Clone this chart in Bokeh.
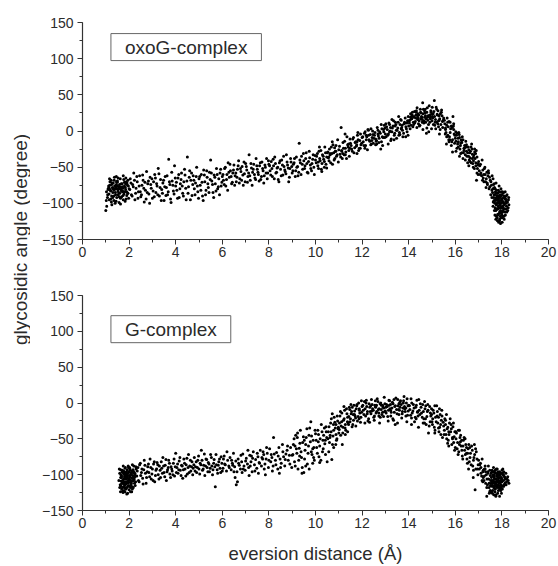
from bokeh.plotting import figure
from bokeh.layouts import row, column
from bokeh.models import Range1d, SingleIntervalTicker, Label
from bokeh.embed import file_html
from bokeh.resources import INLINE

# ---------------- data ----------------
panel_names = ["oxoG-complex", "G-complex"]
x_label = "eversion distance (Å)"
y_label = "glycosidic angle (degree)"

# oxoG-complex, first set of samples
oxo_x = [
    1.00, 1.04, 1.08, 1.12, 1.15, 1.18, 1.20, 1.23, 1.25, 1.28,
    1.30, 1.32, 1.35, 1.37, 1.40, 1.42, 1.45, 1.47, 1.50, 1.52,
    1.55, 1.57, 1.60, 1.62, 1.65, 1.68, 1.70, 1.72, 1.75, 1.78,
    1.80, 1.83, 1.85, 1.88, 1.90, 1.93, 1.95, 1.98, 2.00, 1.10,
    1.25, 1.40, 1.55, 1.70, 1.85, 1.30, 1.45, 1.60, 1.75, 1.90,
    1.15, 1.35, 1.50, 1.65, 1.80, 1.95, 1.22, 1.48, 1.72, 1.02,
    2.05, 2.10, 2.15, 2.20, 2.25, 2.30, 2.35, 2.40, 2.45, 2.50,
    2.55, 2.60, 2.65, 2.70, 2.75, 2.80, 2.85, 2.90, 2.95, 3.00,
    3.05, 3.10, 3.15, 3.20, 3.25, 3.30, 3.35, 3.40, 3.45, 3.50,
    3.55, 3.60, 3.65, 3.70, 3.75, 3.80, 3.85, 3.90, 3.95, 4.00,
    4.05, 4.10, 4.15, 4.20, 4.25, 4.30, 4.35, 4.40, 4.45, 4.50,
    4.55, 4.60, 4.65, 4.70, 4.75, 4.80, 4.85, 4.90, 4.95, 5.00,
    5.05, 5.10, 5.15, 5.20, 5.25, 5.30, 5.35, 5.40, 5.45, 5.50,
    5.55, 5.60, 5.65, 5.70, 5.75, 5.80, 5.85, 5.90, 5.95, 6.00,
    6.05, 6.10, 6.15, 6.20, 6.25, 6.30, 6.35, 6.40, 6.45, 6.50,
    6.55, 6.60, 6.65, 6.70, 6.75, 6.80, 6.85, 6.90, 6.95, 7.00,
    7.05, 7.10, 7.15, 7.20, 7.25, 7.30, 7.35, 7.40, 7.45, 7.50,
    7.55, 7.60, 7.65, 7.70, 7.75, 7.80, 7.85, 7.90, 7.95, 8.00,
    8.05, 8.10, 8.15, 8.20, 8.25, 8.30, 8.35, 8.40, 8.45, 8.50,
    8.55, 8.60, 8.65, 8.70, 8.75, 8.80, 8.85, 8.90, 8.95, 9.00,
    9.05, 9.10, 9.15, 9.20, 9.25, 9.30, 9.35, 9.40, 9.45, 9.50,
    9.55, 9.60, 9.65, 9.70, 9.75, 9.80, 9.85, 9.90, 9.95, 10.00,
    10.05, 10.10, 10.15, 10.20, 10.25, 10.30, 10.35, 10.40, 10.45, 10.50,
    10.55, 10.60, 10.65, 10.70, 10.75, 10.80, 10.85, 10.90, 10.95, 11.00,
    11.05, 11.10, 11.15, 11.20, 11.25, 11.30, 11.35, 11.40, 11.45, 11.50,
    11.55, 11.60, 11.65, 11.70, 11.75, 11.80, 11.85, 11.90, 11.95, 12.00,
    10.12, 10.48, 10.82, 11.12, 11.42, 11.78, 10.62, 11.28, 11.92, 10.38,
    12.05, 12.10, 12.15, 12.20, 12.25, 12.30, 12.35, 12.40, 12.45, 12.50,
    12.55, 12.60, 12.65, 12.70, 12.75, 12.80, 12.85, 12.90, 12.95, 13.00,
    13.05, 13.10, 13.15, 13.20, 13.25, 13.30, 13.35, 13.40, 13.45, 13.50,
    13.55, 13.60, 13.65, 13.70, 13.75, 13.80, 13.85, 13.90, 13.95, 14.00,
    12.18, 12.42, 12.68, 12.92, 13.18, 13.42, 13.68, 13.92, 12.58, 13.28,
    14.05, 14.10, 14.15, 14.20, 14.25, 14.30, 14.35, 14.40, 14.45, 14.50,
    14.55, 14.60, 14.65, 14.70, 14.75, 14.80, 14.85, 14.90, 14.95, 15.00,
    15.05, 15.10, 15.15, 15.20, 15.25, 15.30, 15.35, 15.40, 15.45, 15.50,
    14.12, 14.32, 14.52, 14.72, 14.92, 15.12, 15.32, 14.22, 14.62, 15.02,
    14.42, 14.82, 15.22, 14.08, 14.38, 14.68, 14.98, 15.28, 14.58, 14.78,
    15.55, 15.60, 15.65, 15.70, 15.75, 15.80, 15.85, 15.90, 15.95, 16.00,
    16.05, 16.10, 16.15, 16.20, 16.25, 16.30, 16.35, 16.40, 16.45, 16.50,
    16.55, 16.60, 16.65, 16.70, 16.75, 16.80, 16.85, 16.90, 16.95, 17.00,
    15.62, 15.88, 16.12, 16.38, 16.62, 16.88, 15.78, 16.02, 16.28, 16.78,
    15.58, 15.92, 16.22, 16.48, 16.72, 16.98, 16.58, 16.82, 16.18, 15.72,
    17.05, 17.10, 17.15, 17.20, 17.25, 17.30, 17.35, 17.40, 17.45, 17.50,
    17.55, 17.60, 17.62, 17.65, 17.68, 17.70, 17.72, 17.75, 17.78, 17.80,
    17.82, 17.85, 17.88, 17.90, 17.92, 17.95, 17.98, 18.00, 18.02, 18.05,
    18.08, 18.10, 18.12, 18.15, 18.18, 18.20, 18.22, 18.25, 18.28, 18.30,
    17.72, 17.76, 17.84, 17.86, 17.94, 17.96, 18.04, 18.06, 17.58, 17.66,
    17.74, 17.80, 17.88, 17.92, 18.00, 18.14, 17.52, 17.42, 17.32, 17.22,
    17.78, 17.84, 17.90, 17.96, 18.02, 17.70, 17.64, 18.10, 17.86, 17.98,
]
oxo_y = [
    -110, -104, -88, -76, -95, -70, -82, -68, -90, -78,
    -85, -72, -96, -64, -80, -88, -74, -92, -69, -83,
    -77, -99, -86, -66, -79, -91, -73, -84, -62, -87,
    -76, -97, -81, -70, -89, -75, -68, -93, -80, -81,
    -74, -100, -85, -78, -73, -92, -63, -77, -95, -84,
    -79, -82, -76, -81, -71, -86, -94, -80, -83, -96,
    -66, -88, -74, -58, -95, -79, -70, -84, -62, -91,
    -75, -68, -98, -82, -56, -73, -87, -64, -79, -93,
    -70, -60, -85, -76, -52, -90, -67, -81, -72, -96,
    -63, -78, -88, -39, -74, -99, -69, -83, -48, -76,
    -82, -65, -92, -73, -58, -86, -70, -61, -95, -36,
    -77, -55, -68, -89, -62, -80, -72, -50, -84, -66,
    -75, -60, -90, -54, -70, -82, -64, -78, -57, -40,
    -69, -85, -61, -73, -52, -80, -66, -58, -76, -63,
    -68, -52, -76, -60, -44, -64, -55, -73, -58, -47,
    -62, -70, -53, -41, -66, -56, -49, -75, -59, -45,
    -54, -63, -33, -68, -51, -57, -46, -65, -38, -53,
    -60, -48, -67, -43, -55, -62, -50, -38, -58, -46,
    -55, -42, -63, -48, -36, -58, -51, -67, -44, -53,
    -40, -61, -49, -56, -33, -47, -70, -52, -43, -58,
    -46, -38, -55, -50, -62, -17, -44, -35, -53, -41,
    -48, -30, -57, -42, -37, -52, -45, -33, -60, -40,
    -35, -48, -28, -41, -53, -33, -39, -22, -46, -30,
    -37, -25, -44, -31, -19, -40, -28, -35, -12, -26,
    -32, 5, -38, -24, -14, -29, -8, -22, -35, -17,
    -25, -11, -30, -16, -21, -6, -27, -13, -19, -9,
    -43, -36, -23, -27, -18, -15, -31, -33, -24, -50,
    -15, -3, -20, -8, 2, -12, -5, -18, 0, -10,
    -2, -14, 5, -7, -1, -25, 3, -9, 8, -4,
    6, -6, 11, 0, -11, 4, 14, -3, 9, 1,
    12, -2, 16, 5, -8, 10, 18, 3, 14, 7,
    -6, -13, -4, 2, -1, 7, 3, 11, -19, 16,
    15, 8, 22, 12, 27, 18, 5, 24, 14, 30,
    20, 39, 11, 25, 17, 32, 9, 22, 28, 14,
    24, 42, 16, 30, 10, 21, 2, 26, 13, 18,
    20, 26, 17, 21, 19, 8, -4, 19, 24, 20,
    10, 15, 23, 19, 21, 28, 3, 14, 12, 4,
    10, -2, 18, 6, -8, 3, -15, 20, -4, -10,
    -6, -18, -2, -25, -12, -8, -30, -20, -14, -35,
    -22, -40, -28, -18, -45, -33, -38, -27, -52, -42,
    -18, -29, -10, -24, -30, -44, 12, -1, -16, -36,
    4, 7, -20, -28, -25, -60, -48, -52, -35, -12,
    -48, -58, -40, -65, -52, -70, -57, -62, -80, -68,
    -75, -85, -66, -92, -78, -100, -84, -72, -108, -90,
    -115, -82, -98, -124, -88, -105, -112, -94, -120, -86,
    -100, -108, -92, -116, -97, -104, -88, -110, -95, -102,
    -96, -118, -104, -92, -128, -80, -110, -98, -62, -88,
    -110, -120, -76, -102, -116, -84, -88, -55, -78, -60,
    -86, -94, -112, -90, -104, -116, -74, -122, -126, -100,
]

# oxoG-complex, second set of samples
oxo_x_b = [
    1.03, 1.07, 1.11, 1.14, 1.17, 1.21, 1.24, 1.27, 1.31, 1.34,
    1.38, 1.41, 1.44, 1.49, 1.53, 1.56, 1.59, 1.63, 1.67, 1.71,
    1.74, 1.77, 1.81, 1.84, 1.87, 1.91, 1.94, 1.97, 1.36, 1.58,
    1.16, 1.26, 1.46, 1.66, 1.86, 1.43, 1.63, 1.33, 1.53, 1.73,
    2.03, 2.08, 2.13, 2.18, 2.23, 2.28, 2.33, 2.38, 2.43, 2.48,
    2.53, 2.58, 2.63, 2.68, 2.73, 2.78, 2.83, 2.88, 2.93, 2.98,
    3.03, 3.08, 3.13, 3.18, 3.23, 3.28, 3.33, 3.38, 3.43, 3.48,
    3.53, 3.58, 3.63, 3.68, 3.73, 3.78, 3.83, 3.88, 3.93, 3.98,
    4.03, 4.08, 4.13, 4.18, 4.23, 4.28, 4.33, 4.38, 4.43, 4.48,
    4.53, 4.58, 4.63, 4.68, 4.73, 4.78, 4.83, 4.88, 4.93, 4.98,
    5.03, 5.08, 5.13, 5.18, 5.23, 5.28, 5.33, 5.38, 5.43, 5.48,
    5.53, 5.58, 5.63, 5.68, 5.73, 5.78, 5.83, 5.88, 5.93, 5.98,
    6.03, 6.08, 6.13, 6.18, 6.23, 6.28, 6.33, 6.38, 6.43, 6.48,
    6.53, 6.58, 6.63, 6.68, 6.73, 6.78, 6.83, 6.88, 6.93, 6.98,
    7.03, 7.08, 7.13, 7.18, 7.23, 7.28, 7.33, 7.38, 7.43, 7.48,
    7.53, 7.58, 7.63, 7.68, 7.73, 7.78, 7.83, 7.88, 7.93, 7.98,
    8.03, 8.08, 8.13, 8.18, 8.23, 8.28, 8.33, 8.38, 8.43, 8.48,
    8.53, 8.58, 8.63, 8.68, 8.73, 8.78, 8.83, 8.88, 8.93, 8.98,
    9.03, 9.08, 9.13, 9.18, 9.23, 9.28, 9.33, 9.38, 9.43, 9.48,
    9.53, 9.58, 9.63, 9.68, 9.73, 9.78, 9.83, 9.88, 9.93, 9.98,
    10.03, 10.08, 10.13, 10.18, 10.23, 10.28, 10.33, 10.38, 10.43, 10.48,
    10.53, 10.58, 10.63, 10.68, 10.73, 10.78, 10.83, 10.88, 10.93, 10.98,
    11.03, 11.08, 11.13, 11.18, 11.23, 11.28, 11.33, 11.38, 11.43, 11.48,
    11.53, 11.58, 11.63, 11.68, 11.73, 11.78, 11.83, 11.88, 11.93, 11.98,
    10.27, 10.57, 10.87, 11.17, 11.47, 11.77, 10.17, 10.72, 11.27, 11.82,
    12.03, 12.08, 12.13, 12.18, 12.23, 12.28, 12.33, 12.38, 12.43, 12.48,
    12.53, 12.58, 12.63, 12.68, 12.73, 12.78, 12.83, 12.88, 12.93, 12.98,
    13.03, 13.08, 13.13, 13.18, 13.23, 13.28, 13.33, 13.38, 13.43, 13.48,
    13.53, 13.58, 13.63, 13.68, 13.73, 13.78, 13.83, 13.88, 13.93, 13.98,
    12.12, 12.37, 12.62, 12.87, 13.12, 13.37, 13.62, 13.87, 12.27, 13.02,
    12.47, 12.72, 12.97, 13.22, 13.47, 13.72, 13.97, 12.82, 13.57, 13.82,
    14.03, 14.08, 14.13, 14.18, 14.23, 14.28, 14.33, 14.38, 14.43, 14.48,
    14.53, 14.58, 14.63, 14.68, 14.73, 14.78, 14.83, 14.88, 14.93, 14.98,
    15.03, 15.08, 15.13, 15.18, 15.23, 15.28, 15.33, 15.38, 15.43, 15.48,
    14.06, 14.26, 14.46, 14.66, 14.86, 15.06, 15.26, 15.46, 14.16, 14.36,
    14.56, 14.76, 14.96, 15.16, 15.36, 14.11, 14.31, 14.51, 14.71, 14.91,
    15.11, 15.31, 15.41, 15.21, 15.01, 14.81, 14.61, 14.41, 14.21, 14.01,
    15.53, 15.58, 15.63, 15.68, 15.73, 15.78, 15.83, 15.88, 15.93, 15.98,
    16.03, 16.08, 16.13, 16.18, 16.23, 16.28, 16.33, 16.38, 16.43, 16.48,
    16.53, 16.58, 16.63, 16.68, 16.73, 16.78, 16.83, 16.88, 16.93, 16.98,
    15.57, 15.67, 15.77, 15.87, 15.97, 16.07, 16.17, 16.27, 16.37, 16.47,
    16.57, 16.67, 16.77, 16.87, 16.97, 15.63, 15.83, 16.03, 16.23, 16.43,
    16.63, 16.83, 16.93, 15.73, 15.93, 16.13, 16.33, 16.53, 16.73, 16.91,
    17.03, 17.08, 17.13, 17.18, 17.23, 17.28, 17.33, 17.38, 17.43, 17.48,
    17.53, 17.57, 17.61, 17.63, 17.67, 17.69, 17.71, 17.73, 17.77, 17.79,
    17.81, 17.83, 17.87, 17.89, 17.91, 17.93, 17.97, 17.99, 18.01, 18.03,
    18.07, 18.09, 18.11, 18.13, 18.17, 18.19, 18.21, 18.24, 18.27, 18.29,
    17.74, 17.79, 17.84, 17.89, 17.94, 17.99, 18.04, 18.09, 17.81, 17.87,
    17.93, 17.97, 18.03, 18.13, 18.18, 17.66, 17.71, 17.76, 17.82, 17.92,
    17.47, 17.37, 17.27, 17.17, 17.07, 17.57, 17.62, 17.68, 17.76, 17.88,
    17.95, 18.01, 18.06, 18.16, 17.83, 17.90, 17.98, 18.05, 17.75, 17.85,
]
oxo_y_b = [
    -84, -92, -79, -87, -75, -83, -98, -72, -80, -90,
    -76, -85, -97, -71, -88, -80, -74, -93, -83, -77,
    -89, -67, -84, -78, -94, -72, -86, -76, -68, -91,
    -66, -102, -70, -73, -65, -77, -101, -79, -65, -79,
    -81, -72, -90, -77, -68, -86, -63, -93, -76, -84,
    -88, -61, -79, -71, -94, -85, -69, -100, -74, -66,
    -83, -91, -65, -73, -88, -59, -78, -96, -86, -68,
    -77, -89, -62, -84, -70, -94, -57, -75, -87, -65,
    -71, -93, -60, -80, -67, -76, -90, -53, -79, -69,
    -86, -64, -95, -58, -74, -68, -88, -63, -76, -93,
    -63, -82, -71, -96, -61, -88, -55, -73, -85, -67,
    -58, -74, -92, -64, -83, -60, -77, -88, -53, -71,
    -60, -74, -50, -67, -82, -57, -46, -63, -71, -54,
    -75, -58, -64, -48, -72, -52, -68, -61, -43, -70,
    -49, -71, -58, -62, -45, -75, -53, -60, -67, -48,
    -57, -69, -44, -63, -52, -72, -47, -58, -66, -41,
    -48, -61, -52, -39, -66, -45, -57, -50, -70, -41,
    -62, -47, -35, -54, -59, -43, -51, -64, -38, -49,
    -55, -44, -63, -36, -49, -57, -40, -60, -46, -31,
    -52, -38, -45, -58, -28, -47, -55, -39, -50, -34,
    -44, -31, -52, -38, -27, -45, -35, -42, -30, -51,
    -29, -41, -33, -22, -46, -30, -38, -20, -33, -43,
    -21, -36, -28, -16, -33, -24, -38, -19, -27, -11,
    -20, -28, -9, -23, -15, -31, -12, -24, -4, -17,
    -56, -36, -28, -31, -24, -19, -22, -15, -4, -2,
    -8, -20, -1, -12, -26, -6, -14, 3, -9, -17,
    -6, -11, -18, 1, -10, -3, -15, -20, -1, 4,
    -8, 2, -4, 9, -13, -1, 7, -6, 12, -10,
    4, -6, 9, 15, 1, -3, 11, 6, -1, 20,
    -24, -19, -13, -8, -18, -12, -5, -8, 1, 10,
    -5, -16, -9, 5, 1, 8, -6, 9, 20, 12,
    11, 24, 17, 6, 20, 13, 28, 16, 22, 8,
    25, 16, 30, 19, 12, 26, 21, 35, 17, 23,
    18, 27, 12, 33, 22, 6, 17, 9, 21, 15,
    3, 11, 7, 14, -1, 9, 28, 5, 26, 32,
    19, -3, 26, 3, 24, 17, 22, 26, 30, 12,
    20, 15, 29, 12, 33, 19, 2, 18, 9, 14,
    15, 2, 8, -6, 13, -2, 7, -12, 2, -6,
    -14, -3, -22, -9, -17, -30, -12, -24, -33, -19,
    -30, -26, -37, -44, -32, -41, -29, -48, -36, -45,
    -4, 12, -12, 5, -17, -24, -5, -13, -27, -22,
    -35, -22, -50, -31, -47, -8, -20, -28, -31, -40,
    -42, -25, -58, -15, 10, -15, -38, -44, -38, -68,
    -55, -46, -62, -54, -70, -60, -66, -74, -58, -77,
    -70, -92, -80, -98, -73, -88, -106, -94, -82, -100,
    -96, -108, -90, -114, -100, -118, -84, -106, -96, -112,
    -92, -118, -102, -94, -108, -90, -112, -98, -106, -92,
    -122, -108, -100, -96, -110, -88, -104, -90, -124, -106,
    -92, -120, -84, -112, -100, -96, -80, -102, -86, -106,
    -64, -72, -50, -68, -60, -82, -104, -110, -92, -84,
    -96, -126, -106, -94, -116, -122, -114, -118, -86, -92,
]

# G-complex, first set of samples
g_x = [
    1.58, 1.62, 1.65, 1.68, 1.70, 1.72, 1.75, 1.78, 1.80, 1.82,
    1.85, 1.88, 1.90, 1.92, 1.95, 1.98, 2.00, 2.02, 2.05, 2.08,
    2.10, 2.12, 2.15, 2.18, 2.20, 2.22, 2.25, 2.28, 2.30, 1.76,
    1.86, 1.96, 2.06, 2.16, 2.26, 1.66, 1.74, 1.84, 1.94, 2.04,
    1.90, 1.80, 1.70, 2.00, 2.10, 2.14, 1.98, 1.88, 1.78, 2.24,
    1.60, 1.64, 1.94, 2.02, 2.12, 1.82, 1.72, 2.18, 1.92, 2.08,
    2.35, 2.40, 2.45, 2.50, 2.55, 2.60, 2.65, 2.70, 2.75, 2.80,
    2.85, 2.90, 2.95, 3.00, 3.05, 3.10, 3.15, 3.20, 3.25, 3.30,
    3.35, 3.40, 3.45, 3.50, 3.55, 3.60, 3.65, 3.70, 3.75, 3.80,
    3.85, 3.90, 3.95, 4.00, 4.05, 4.10, 4.15, 4.20, 4.25, 4.30,
    4.35, 4.40, 4.45, 4.50, 4.55, 4.60, 4.65, 4.70, 4.75, 4.80,
    4.85, 4.90, 4.95, 5.00, 5.05, 5.10, 5.15, 5.20, 5.25, 5.30,
    5.35, 5.40, 5.45, 5.50, 5.55, 5.60, 5.65, 5.70, 5.75, 5.80,
    5.85, 5.90, 5.95, 6.00, 6.10, 6.20, 6.30, 6.40, 6.50, 6.60,
    6.65, 6.70, 6.80, 6.90, 7.00, 7.10, 7.20, 7.30, 7.40, 7.50,
    7.60, 7.70, 7.80, 7.90, 8.00, 8.10, 8.20, 8.30, 8.40, 8.50,
    8.60, 8.70, 8.80, 8.90, 9.00, 6.05, 6.45, 6.85, 7.25, 7.75,
    9.05, 9.10, 9.15, 9.20, 9.25, 9.30, 9.35, 9.40, 9.45, 9.50,
    9.55, 9.60, 9.65, 9.70, 9.75, 9.80, 9.85, 9.90, 9.95, 10.00,
    10.05, 10.10, 10.15, 10.20, 10.25, 10.30, 10.35, 10.40, 10.45, 10.50,
    9.22, 9.58, 9.88, 10.18, 10.42,
    10.55, 10.60, 10.65, 10.70, 10.75, 10.80, 10.85, 10.90, 10.95, 11.00,
    11.05, 11.10, 11.15, 11.20, 11.25, 11.30, 11.35, 11.40, 11.45, 11.50,
    11.55, 11.60, 11.65, 11.70, 11.75, 11.80, 11.85, 11.90, 11.95, 12.00,
    10.62, 10.88, 11.12, 11.38, 11.62, 11.88, 10.78, 11.02, 11.28, 11.52,
    12.05, 12.10, 12.15, 12.20, 12.25, 12.30, 12.35, 12.40, 12.45, 12.50,
    12.55, 12.60, 12.65, 12.70, 12.75, 12.80, 12.85, 12.90, 12.95, 13.00,
    13.05, 13.10, 13.15, 13.20, 13.25, 13.30, 13.35, 13.40, 13.45, 13.50,
    13.55, 13.60, 13.65, 13.70, 13.75, 13.80, 13.85, 13.90, 13.95, 14.00,
    14.05, 14.10, 14.15, 14.20, 14.25, 14.30, 14.35, 14.40, 14.45, 14.50,
    12.22, 12.58, 12.88, 13.22, 13.58, 13.88, 14.12, 14.38, 12.72, 13.42,
    14.55, 14.60, 14.65, 14.70, 14.75, 14.80, 14.85, 14.90, 14.95, 15.00,
    15.05, 15.10, 15.15, 15.20, 15.25, 15.30, 15.35, 15.40, 15.45, 15.50,
    15.55, 15.60, 15.65, 15.70, 15.75, 15.80, 15.85, 15.90, 15.95, 16.00,
    16.05, 16.10, 16.15, 16.20, 16.25, 16.30, 16.35, 16.40, 16.45, 16.50,
    16.55, 16.60, 16.65, 16.70, 16.75, 16.80, 16.85, 16.90, 16.95, 17.00,
    14.68, 14.98, 15.28, 15.58, 15.88, 16.18, 16.48, 16.78, 15.12, 15.72,
    17.05, 17.10, 17.15, 17.20, 17.25, 17.30, 17.35, 17.40, 17.45, 17.50,
    17.52, 17.55, 17.58, 17.60, 17.62, 17.65, 17.68, 17.70, 17.72, 17.75,
    17.78, 17.80, 17.82, 17.85, 17.88, 17.90, 17.92, 17.95, 17.98, 18.00,
    18.05, 18.10, 18.15, 18.20, 18.25, 18.30, 17.56, 17.64, 17.74, 17.84,
    17.94, 18.02, 18.08, 17.42, 17.36, 17.28, 17.18, 17.70, 17.86, 17.60,
    17.66, 17.76, 17.90, 17.54, 17.80, 18.00, 17.48, 17.72, 17.96, 18.12,
]
g_y = [
    -92, -114, -100, -120, -96, -108, -88, -117, -103, -124,
    -98, -110, -127, -93, -105, -115, -121, -90, -108, -100,
    -112, -95, -104, -118, -88, -106, -99, -110, -92, -106,
    -113, -98, -124, -101, -115, -109, -97, -119, -111, -94,
    -102, -96, -112, -107, -97, -120, -90, -106, -113, -103,
    -118, -104, -116, -101, -109, -91, -123, -97, -100, -114,
    -95, -108, -86, -101, -92, -113, -80, -98, -104, -89,
    -97, -78, -106, -92, -85, -110, -94, -83, -100, -88,
    -104, -91, -76, -97, -87, -108, -93, -80, -99, -89,
    -95, -84, -102, -70, -90, -98, -81, -94, -87, -105,
    -78, -92, -86, -99, -72, -88, -95, -82, -91, -76,
    -89, -97, -80, -92, -84, -66, -94, -87, -101, -78,
    -90, -83, -96, -72, -88, -93, -79, -117, -86, -98,
    -82, -91, -75, -95, -85, -68, -90, -80, -96, -114,
    -110, -84, -73, -92, -81, -66, -88, -77, -95, -70,
    -84, -76, -92, -62, -80, -72, -48, -86, -74, -90,
    -68, -79, -60, -85, -73, -78, -87, -97, -74, -68,
    -58, -82, -45, -70, -92, -63, -38, -76, -55, -97,
    -66, -48, -85, -60, -35, -26, -72, -52, -80, -43,
    -62, -38, -75, -50, -30, -68, -45, -57, -33, -82,
    -48, -88, -64, -83, -52,
    -40, -55, -28, -79, -46, -20, -35, -52, -25, -42,
    -18, -32, -58, -24, -10, -38, -15, -28, -6, -22,
    -12, -30, -3, -18, -8, -25, 0, -14, -20, -5,
    -48, -30, -26, -20, -16, -10, -62, -37, -44, -2,
    -10, 2, -18, -5, -25, -1, -12, 5, -8, -20,
    -3, -14, 6, -9, -28, 0, -16, -6, 8, -11,
    -2, -19, 4, -8, -13, 1, -24, -5, 7, -15,
    -4, -10, 3, -21, -7, 9, -12, 0, -17, -3,
    -9, 6, -14, -2, -26, -6, 4, -18, -10, -1,
    -15, -6, -3, -10, -1, -7, -21, -12, -18, -30,
    -14, -2, -22, -8, -30, -12, -42, -5, -18, -26,
    -10, -34, -20, -4, -28, -40, -16, -24, -48, -32,
    -22, -44, -36, -52, -28, -40, -58, -33, -47, -62,
    -42, -55, -68, -48, -60, -74, -52, -66, -58, -78,
    -64, -82, -70, -60, -88, -76, -121, -68, -92, -80,
    2, -16, -35, -30, -50, -38, -70, -94, -4, -60,
    -86, -98, -78, -104, -92, -112, -130, -96, -118, -101,
    -108, -124, -94, -115, -102, -128, -110, -97, -120, -106,
    -114, -100, -126, -108, -118, -96, -112, -122, -104, -110,
    -100, -114, -106, -110, -103, -112, -116, -90, -130, -98,
    -108, -120, -96, -88, -106, -92, -110, -116, -104, -122,
    -100, -92, -130, -112, -118, -94, -124, -112, -116, -104,
]

# G-complex, second set of samples
g_x_b = [
    1.56, 1.60, 1.63, 1.67, 1.69, 1.71, 1.73, 1.77, 1.79, 1.81,
    1.83, 1.87, 1.89, 1.91, 1.93, 1.97, 1.99, 2.01, 2.03, 2.07,
    2.09, 2.11, 2.13, 2.17, 2.19, 2.21, 2.23, 2.27, 2.29, 1.74,
    1.84, 1.94, 2.04, 2.14, 2.24, 1.64, 1.68, 1.78, 1.88, 1.98,
    2.06, 2.16, 1.96, 1.86, 1.76, 1.66, 1.81, 1.91, 2.01, 2.11,
    2.33, 2.38, 2.43, 2.48, 2.53, 2.58, 2.63, 2.68, 2.73, 2.78,
    2.83, 2.88, 2.93, 2.98, 3.03, 3.08, 3.13, 3.18, 3.23, 3.28,
    3.33, 3.38, 3.43, 3.48, 3.53, 3.58, 3.63, 3.68, 3.73, 3.78,
    3.83, 3.88, 3.93, 3.98, 4.03, 4.08, 4.13, 4.18, 4.23, 4.28,
    4.33, 4.38, 4.43, 4.48, 4.53, 4.58, 4.63, 4.68, 4.73, 4.78,
    4.83, 4.88, 4.93, 4.98, 5.03, 5.08, 5.13, 5.18, 5.23, 5.28,
    5.33, 5.38, 5.43, 5.48, 5.53, 5.58, 5.63, 5.68, 5.73, 5.78,
    5.83, 5.88, 5.93, 5.98, 6.03, 6.08, 6.13, 6.18, 6.23, 6.28,
    6.33, 6.38, 6.43, 6.48, 6.53, 6.58, 6.63, 6.68, 6.73, 6.78,
    6.83, 6.88, 6.93, 6.98, 7.03, 7.08, 7.13, 7.18, 7.23, 7.28,
    7.33, 7.38, 7.43, 7.48, 7.53, 7.58, 7.63, 7.68, 7.73, 7.78,
    7.83, 7.88, 7.93, 7.98, 8.03, 8.08, 8.13, 8.18, 8.23, 8.28,
    8.33, 8.38, 8.43, 8.48, 8.53, 8.58, 8.63, 8.68, 8.73, 8.78,
    8.83, 8.88, 8.93, 8.98, 8.45, 8.15, 7.85, 7.55, 7.15, 6.55,
    9.03, 9.08, 9.13, 9.18, 9.23, 9.28, 9.33, 9.38, 9.43, 9.48,
    9.53, 9.58, 9.63, 9.68, 9.73, 9.78, 9.83, 9.88, 9.93, 9.98,
    10.03, 10.08, 10.13, 10.18, 10.23, 10.28, 10.33, 10.38, 10.43, 10.48,
    9.12, 9.32, 9.52, 9.72, 9.92, 10.12, 10.32, 10.46, 9.42, 9.82,
    10.53, 10.58, 10.63, 10.68, 10.73, 10.78, 10.83, 10.88, 10.93, 10.98,
    11.03, 11.08, 11.13, 11.18, 11.23, 11.28, 11.33, 11.38, 11.43, 11.48,
    11.53, 11.58, 11.63, 11.68, 11.73, 11.78, 11.83, 11.88, 11.93, 11.98,
    10.57, 10.67, 10.77, 10.87, 10.97, 11.07, 11.17, 11.27, 11.37, 11.47,
    11.57, 11.67, 11.77, 11.87, 11.97, 10.72, 10.92, 11.22, 11.42, 11.72,
    12.03, 12.08, 12.13, 12.18, 12.23, 12.28, 12.33, 12.38, 12.43, 12.48,
    12.53, 12.58, 12.63, 12.68, 12.73, 12.78, 12.83, 12.88, 12.93, 12.98,
    13.03, 13.08, 13.13, 13.18, 13.23, 13.28, 13.33, 13.38, 13.43, 13.48,
    13.53, 13.58, 13.63, 13.68, 13.73, 13.78, 13.83, 13.88, 13.93, 13.98,
    14.03, 14.08, 14.13, 14.18, 14.23, 14.28, 14.33, 14.38, 14.43, 14.48,
    12.12, 12.32, 12.52, 12.72, 12.92, 13.12, 13.32, 13.52, 13.72, 13.92,
    14.12, 14.32, 14.42, 12.42, 12.62, 12.82, 13.02, 13.22, 13.62, 13.82,
    12.17, 12.37, 12.57, 12.77, 12.97, 13.17, 13.37, 13.57, 13.77, 13.97,
    14.53, 14.58, 14.63, 14.68, 14.73, 14.78, 14.83, 14.88, 14.93, 14.98,
    15.03, 15.08, 15.13, 15.18, 15.23, 15.28, 15.33, 15.38, 15.43, 15.48,
    15.53, 15.58, 15.63, 15.68, 15.73, 15.78, 15.83, 15.88, 15.93, 15.98,
    16.03, 16.08, 16.13, 16.18, 16.23, 16.28, 16.33, 16.38, 16.43, 16.48,
    16.53, 16.58, 16.63, 16.68, 16.73, 16.78, 16.83, 16.88, 16.93, 16.98,
    14.62, 14.82, 15.02, 15.22, 15.42, 15.62, 15.82, 16.02, 16.22, 16.42,
    16.62, 16.82, 16.97, 15.32, 15.52, 15.72, 15.92, 16.12, 16.32, 16.52,
    14.72, 14.92, 15.12, 15.37, 15.67, 15.97, 16.27, 16.57, 16.87, 16.77,
    17.03, 17.08, 17.13, 17.18, 17.23, 17.28, 17.33, 17.38, 17.43, 17.48,
    17.51, 17.53, 17.57, 17.59, 17.61, 17.63, 17.67, 17.69, 17.71, 17.73,
    17.77, 17.79, 17.81, 17.83, 17.87, 17.89, 17.91, 17.93, 17.97, 17.99,
    18.01, 18.03, 18.07, 18.09, 18.13, 18.17, 18.22, 18.27, 17.55, 17.65,
    17.75, 17.85, 17.95, 17.45, 17.35, 17.25, 17.15, 17.58, 17.68, 17.78,
    17.88, 17.98, 18.08, 17.62, 17.72, 17.82, 17.92, 18.04, 17.50, 17.40,
    17.64, 17.74, 17.84, 17.94, 18.14, 17.46, 17.56, 17.66, 17.76, 17.86,
    17.96, 18.06, 17.70, 17.80, 17.90, 17.60, 17.30, 17.20, 17.10, 18.18,
]
g_y_b = [
    -108, -98, -124, -104, -112, -94, -118, -99, -110, -115,
    -106, -120, -96, -112, -102, -108, -96, -116, -103, -111,
    -99, -105, -117, -93, -108, -96, -112, -102, -89, -125,
    -90, -126, -92, -86, -98, -93, -102, -122, -101, -111,
    -118, -108, -88, -104, -95, -116, -100, -118, -106, -124,
    -102, -90, -110, -84, -97, -105, -93, -87, -112, -96,
    -85, -103, -90, -99, -108, -82, -101, -92, -86, -106,
    -94, -82, -98, -88, -103, -79, -96, -90, -84, -104,
    -92, -100, -78, -89, -97, -85, -93, -76, -101, -88,
    -93, -84, -102, -77, -90, -97, -80, -89, -100, -86,
    -95, -82, -90, -74, -99, -86, -80, -92, -71, -88,
    -79, -96, -85, -91, -76, -100, -84, -89, -72, -93,
    -87, -78, -97, -84, -91, -74, -86, -95, -80, -88,
    -76, -93, -84, -70, -89, -81, -96, -78, -87, -92,
    -82, -71, -88, -94, -77, -85, -90, -73, -82, -96,
    -68, -86, -79, -91, -75, -83, -66, -88, -78, -72,
    -85, -78, -70, -90, -64, -82, -76, -88, -71, -80,
    -69, -92, -62, -78, -84, -58, -75, -88, -71, -66,
    -80, -73, -62, -90, -98, -95, -100, -98, -101, -104,
    -72, -50, -88, -64, -42, -80, -56, -68, -90, -47,
    -78, -58, -36, -70, -92, -54, -46, -84, -62, -38,
    -52, -70, -44, -60, -80, -40, -64, -35, -72, -48,
    -60, -74, -52, -45, -76, -54, -52, -40, -98, -68,
    -50, -33, -45, -22, -58, -38, -27, -44, -18, -34,
    -28, -45, -14, -34, -22, -30, -8, -40, -19, -26,
    -15, -6, -24, -11, -32, -2, -19, -8, -27, -13,
    -68, -40, -30, -58, -36, -12, -42, -35, -26, -9,
    -33, -16, -4, -22, 3, -15, -50, -5, -30, -21,
    -3, -16, -8, 4, -12, -22, -6, -15, -2, -10,
    -18, -5, -12, 2, -8, -20, -3, -13, -7, -1,
    -14, -5, -10, 3, -18, -7, -1, -13, -4, -9,
    5, -16, -6, -2, -12, 3, -8, -18, 6, -11,
    -4, -17, 0, -11, -7, -20, -3, -13, 5, -16,
    -28, -27, -24, -14, -19, -25, -22, -28, -15, -26,
    -30, -22, -34, -11, -3, -9, -6, -2, 1, -5,
    0, -4, 3, -1, -12, -3, 5, -9, 0, -4,
    -6, -20, -12, -28, -4, -19, -10, -32, -14, -8,
    -22, -14, -38, -26, -12, -20, -34, -44, -18, -27,
    -38, -24, -50, -34, -44, -22, -36, -48, -55, -40,
    -50, -64, -38, -58, -45, -66, -60, -48, -72, -62,
    -70, -58, -76, -86, -66, -80, -72, -92, -78, -86,
    -28, -2, -30, -18, -10, -16, -30, -40, -54, -50,
    -62, -58, -100, -8, -44, -40, -28, -72, -78, -84,
    -22, -26, -42, -30, -56, -66, -52, -92, -64, -104,
    -92, -84, -102, -96, -108, -88, -100, -114, -106, -94,
    -115, -98, -108, -126, -100, -112, -104, -120, -94, -110,
    -102, -116, -108, -96, -112, -104, -120, -100, -114, -106,
    -98, -116, -108, -102, -112, -98, -106, -108, -104, -118,
    -128, -122, -98, -112, -118, -102, -108, -96, -106, -110,
    -100, -126, -116, -108, -114, -104, -110, -92, -122, -98,
    -96, -98, -114, -104, -104, -126, -112, -102, -116, -108,
    -118, -100, -124, -92, -116, -110, -96, -94, -90, -114,
]

x_ticks_interval = 2
y_ticks_interval = 50

# ---------------- styling ----------------
FONT = "Liberation Sans"
TXT = "#2b2b2b"
AX = "#333333"


def make_panel(xs, ys, name, height, top, bottom, show_xlabel, label_y):
    p = figure(width=528, height=height,
               x_range=Range1d(0, 20), y_range=Range1d(-150, 150),
               output_backend="svg", toolbar_location=None,
               min_border_left=52, min_border_right=10,
               min_border_top=top, min_border_bottom=bottom)
    p.outline_line_color = None
    p.grid.visible = False
    p.background_fill_color = "white"
    p.border_fill_color = "white"
    p.xaxis.ticker = SingleIntervalTicker(interval=x_ticks_interval, num_minor_ticks=2)
    p.yaxis.ticker = SingleIntervalTicker(interval=y_ticks_interval, num_minor_ticks=2)
    for ax in (p.xaxis[0], p.yaxis[0]):
        ax.axis_line_color = AX
        ax.axis_line_width = 1.2
        ax.major_tick_line_color = AX
        ax.minor_tick_line_color = AX
        ax.major_tick_in = 0
        ax.major_tick_out = 5
        ax.minor_tick_in = 0
        ax.minor_tick_out = 3
        ax.major_label_text_font = FONT
        ax.major_label_text_font_size = "14px"
        ax.major_label_text_color = TXT
    p.xaxis.major_label_standoff = 2
    p.yaxis.major_label_standoff = 4
    if show_xlabel:
        p.xaxis.axis_label = x_label
        p.xaxis.axis_label_text_font = FONT
        p.xaxis.axis_label_text_font_size = "18.5px"
        p.xaxis.axis_label_text_font_style = "normal"
        p.xaxis.axis_label_text_color = TXT
        p.xaxis.axis_label_standoff = 12
    p.scatter(xs, ys, size=3.0, marker="circle", fill_color="black",
              line_color=None)
    lab = Label(x=1.22, y=label_y, text=name, text_font=FONT,
                text_font_size="19px", text_color=TXT,
                text_baseline="middle", text_align="left",
                border_line_color="#666666", border_line_width=1,
                background_fill_color="white",
                padding=dict(left=14, right=14, top=3, bottom=3))
    p.add_layout(lab)
    return p


p1 = make_panel(oxo_x + oxo_x_b, oxo_y + oxo_y_b, panel_names[0], 270, 22, 31, False, 116)
p2 = make_panel(g_x + g_x_b, g_y + g_y_b, panel_names[1], 296, 25, 55, True, 103)

# shared vertical axis title
lf = figure(width=30, height=566, x_range=Range1d(0, 30), y_range=Range1d(566, 0),
            output_backend="svg", toolbar_location=None,
            min_border=0, min_border_left=0, min_border_right=0,
            min_border_top=0, min_border_bottom=0)
lf.axis.visible = False
lf.grid.visible = False
lf.outline_line_color = None
lf.add_layout(Label(x=20, y=239, text=y_label, angle=1.5707963, text_font=FONT,
                    text_font_size="19px", text_color=TXT,
                    text_align="center", text_baseline="middle"))

layout = row(lf, column(p1, p2, spacing=0), spacing=0)
open("out.html", "w").write(file_html(layout, INLINE))
